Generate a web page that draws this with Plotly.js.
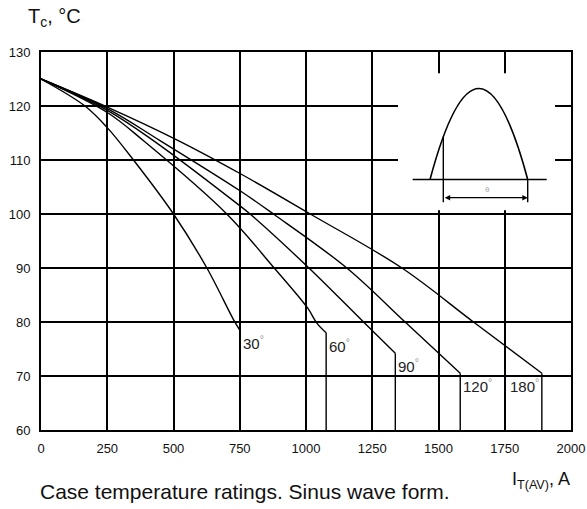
<!DOCTYPE html>
<html>
<head>
<meta charset="utf-8">
<script src="https://cdn.plot.ly/plotly-3.0.1.min.js"></script>
<style>html,body{margin:0;padding:0;background:#fff;}#chart{width:587px;height:509px;}</style>
</head>
<body>
<div id="chart"></div>
<script>
// ---- data ----
const curveLabels = ['30', '60', '90', '120', '180'];
const current30  = [0, 166, 250, 349, 500, 626, 728, 750];
const temp30     = [125, 120, 116, 110, 100, 90, 80.3, 78.5];
const current60  = [0, 250, 386, 701, 880, 1006, 1041, 1076];
const temp60     = [125, 118.8, 113.6, 100, 90, 82.6, 79.8, 78];
const current90  = [0, 250, 424, 751, 789, 1011, 1217, 1337];
const temp90     = [125, 119.2, 113.6, 101.5, 100, 90, 80, 74.2];
const current120 = [0, 250, 449, 751, 877, 1154, 1374, 1582];
const temp120    = [125, 119.5, 113.6, 104.3, 100, 90, 80, 70.5];
const current180 = [0, 250, 518, 751, 1016, 1362, 1632, 1890];
const temp180    = [125, 119.8, 113.6, 107.5, 100, 90, 80, 70.5];
const xTickVals  = [0, 250, 500, 750, 1000, 1250, 1500, 1750, 2000];
const xTickText  = ['0', '250', '500', '750', '1000', '1250', '1500', '1750', '2000'];
const yTickVals  = [60, 70, 80, 90, 100, 110, 120, 130];
const yTickText  = ['60', '70', '80', '90', '100', '110', '120', '130'];

const xs = [current30, current60, current90, current120, current180];
const ys = [temp30, temp60, temp90, temp120, temp180];
const yMin = 60, yMax = 130;

// plot box in pixels
const L = 41, R = 571, T = 51.7, B = 430;
const fx = px => (px - L) / (R - L);
const fy = py => (B - py) / (B - T);

const traces = [];
const dropX = [], dropY = [];
xs.forEach((x, i) => {
  traces.push({
    x: x, y: ys[i], type: 'scatter', mode: 'lines',
    line: {color: '#000', width: 1.4, shape: 'spline', smoothing: 1},
    hoverinfo: 'skip', showlegend: false
  });
  const xe = x[x.length - 1], ye = ys[i][ys[i].length - 1];
  dropX.push(xe, xe, null);
  dropY.push(ye, yMin, null);
});
traces.push({
  x: dropX, y: dropY, type: 'scatter', mode: 'lines',
  line: {color: '#000', width: 1.4}, hoverinfo: 'skip', showlegend: false
});
// inset anchor trace (invisible) so the inset subplot exists
traces.push({x: [0], y: [0], xaxis: 'x2', yaxis: 'y2', mode: 'markers',
  marker: {opacity: 0}, hoverinfo: 'skip', showlegend: false});

const font = 'Liberation Sans, Arial, sans-serif';
const annotations = [];
xs.forEach((x, i) => {
  const xe = x[x.length - 1], ye = ys[i][ys[i].length - 1];
  const last = i === xs.length - 1;
  annotations.push({
    x: xe, y: ye, xref: 'x', yref: 'y', showarrow: false,
    text: curveLabels[i] + '<sup><span style="color:#999">°</span></sup>',
    xanchor: last ? 'right' : 'left', yanchor: 'top',
    xshift: last ? -1 : 1, yshift: -1,
    font: {family: font, size: 15, color: '#222'}
  });
});
annotations.push(
  {xref: 'paper', yref: 'paper', x: fx(26), y: fy(3), xanchor: 'left', yanchor: 'top',
   showarrow: false, text: 'T<sub>c</sub>, °C', font: {family: font, size: 20, color: '#111'}},
  {xref: 'paper', yref: 'paper', x: fx(510), y: fy(467), xanchor: 'left', yanchor: 'top',
   showarrow: false, text: 'I<sub>T(AV)</sub>, A', font: {family: font, size: 18, color: '#111'}},
  {xref: 'paper', yref: 'paper', x: fx(38), y: fy(492), xanchor: 'left', yanchor: 'middle',
   showarrow: false, text: 'Case temperature ratings. Sinus wave form.', font: {family: font, size: 21, color: '#111'}},
  // inset: double arrow for conduction angle
  {xref: 'x2', yref: 'y2', axref: 'x2', ayref: 'y2', x: 180, y: -0.2, ax: 24.5, ay: -0.2,
   text: '', showarrow: true, arrowside: 'start+end', arrowhead: 2, arrowsize: 0.9, arrowwidth: 1.2, arrowcolor: '#000'},
  {xref: 'x2', yref: 'y2', x: 106, y: -0.11, text: 'θ', showarrow: false,
   font: {family: font, size: 8, color: '#aaa'}}
);

const shapes = [
  {type: 'path', xref: 'x2', yref: 'y2', path: 'M 0 0 Q 90 2 180 0', line: {color: '#000', width: 1.6}},
  {type: 'line', xref: 'x2', yref: 'y2', x0: -32, x1: 215, y0: 0, y1: 0, line: {color: '#000', width: 1.4}},
  {type: 'line', xref: 'x2', yref: 'y2', x0: 24.5, x1: 24.5, y0: 0.47, y1: -0.25, line: {color: '#000', width: 1.4}},
  {type: 'line', xref: 'x2', yref: 'y2', x0: 180, x1: 180, y0: 0, y1: -0.25, line: {color: '#000', width: 1.4}}
];

const gridW = 2;
const layout = {
  width: 587, height: 509,
  margin: {l: L, r: 587 - R, t: T, b: 509 - B, pad: 0},
  paper_bgcolor: '#fff', plot_bgcolor: '#fff',
  showlegend: false,
  font: {family: font, color: '#111'},
  xaxis: {
    range: [0, 2000], tickvals: xTickVals, ticktext: xTickText,
    showgrid: true, gridcolor: '#000', gridwidth: gridW,
    showline: true, mirror: true, linecolor: '#000', linewidth: gridW,
    zeroline: false, ticks: '', ticklabelstandoff: 5,
    tickfont: {family: font, size: 13, color: '#111'}, fixedrange: true
  },
  yaxis: {
    range: [yMin, yMax], tickvals: yTickVals, ticktext: yTickText,
    showgrid: true, gridcolor: '#000', gridwidth: gridW,
    showline: true, mirror: true, linecolor: '#000', linewidth: gridW,
    zeroline: false, ticks: '', ticklabelstandoff: 6,
    tickfont: {family: font, size: 13, color: '#111'}, fixedrange: true
  },
  xaxis2: {domain: [fx(398), fx(555)], range: [-59, 230.3], visible: false, anchor: 'y2', fixedrange: true},
  yaxis2: {domain: [fy(210), fy(73)], range: [-0.337, 1.168], visible: false, anchor: 'x2', fixedrange: true},
  annotations: annotations,
  shapes: shapes
};

Plotly.newPlot('chart', traces, layout, {displayModeBar: false, staticPlot: true});
</script>
</body>
</html>
